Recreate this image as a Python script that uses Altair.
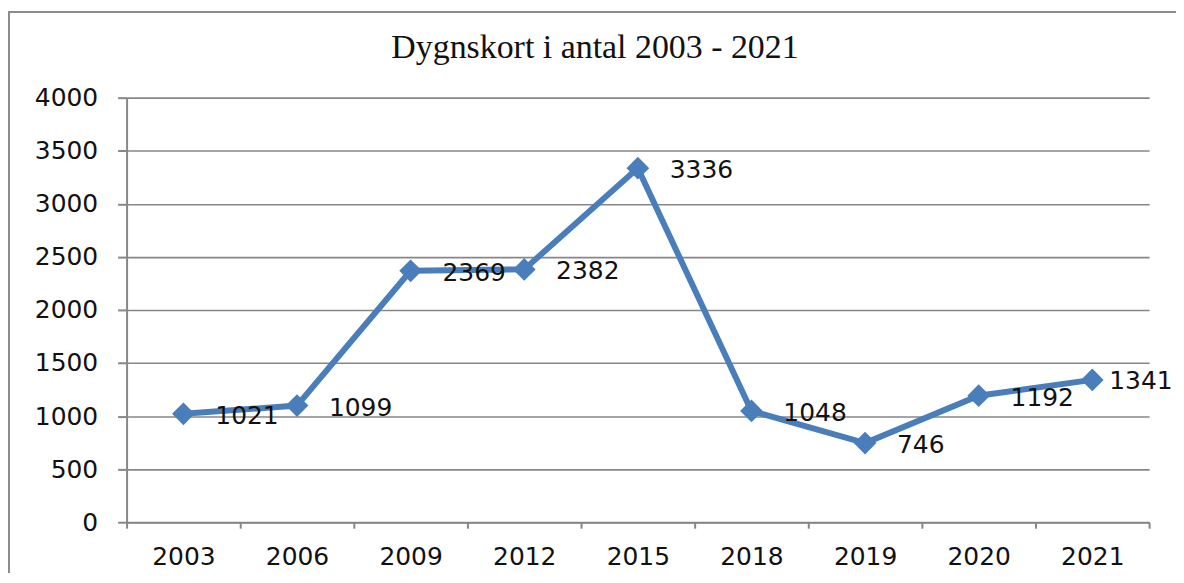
import altair as alt
import pandas as pd

years = ["2003", "2006", "2009", "2012", "2015", "2018", "2019", "2020", "2021"]
values = [1021, 1099, 2369, 2382, 3336, 1048, 746, 1192, 1341]
y_ticks = [0, 500, 1000, 1500, 2000, 2500, 3000, 3500, 4000]

df = pd.DataFrame({"year": years, "value": values})
last_year = years[-1]

BLUE = "#4A7EBB"
GRAY = "#878787"

x_enc = alt.X("year:N", sort=years,
              scale=alt.Scale(paddingInner=0, paddingOuter=0),
              axis=alt.Axis(title=None, labelAngle=0, grid=False, ticks=True,
                            tickBand="extent", tickSize=6, tickColor=GRAY, tickWidth=2,
                            domain=True, domainColor=GRAY, domainWidth=2,
                            labelFont="DejaVu Sans", labelFontSize=25,
                            labelColor="#111111", labelPadding=16))
y_enc = alt.Y("value:Q",
              scale=alt.Scale(domain=[0, 4000], nice=False),
              axis=alt.Axis(title=None, values=y_ticks, format="d", grid=True,
                            gridColor=GRAY, gridWidth=1.6, tickSize=9, tickColor=GRAY,
                            tickWidth=2, domain=True, domainColor=GRAY, domainWidth=2,
                            labelFont="DejaVu Sans", labelFontSize=25,
                            labelColor="#111111", labelPadding=20))

base = alt.Chart(df).encode(x=x_enc, y=y_enc)

line = base.mark_line(color=BLUE, strokeWidth=6)
pts = base.mark_point(shape="diamond", filled=True, size=520, color=BLUE, opacity=1)
labels = base.mark_text(align="left", baseline="middle", dx=32, dy=2,
                        font="DejaVu Sans", fontSize=25, color="#111111").encode(
    text="value:Q").transform_filter(alt.datum.year != last_year)
label_last = base.mark_text(align="left", baseline="middle", dx=17, dy=1,
                            font="DejaVu Sans", fontSize=25, color="#111111").encode(
    text="value:Q").transform_filter(alt.datum.year == last_year)

border = alt.Chart(df).mark_rect(fill=None, stroke="#8C8C8C", strokeWidth=2).encode(
    x=alt.value(-118), x2=alt.value(1200), y=alt.value(-86), y2=alt.value(700))

chart = alt.layer(border, line, pts, labels, label_last).properties(
    width=1026, height=426,
    title=alt.TitleParams("Dygnskort i antal 2003 - 2021", font="Liberation Serif",
                          fontSize=34, fontWeight="normal", color="#111111",
                          anchor="middle", dx=-43, offset=-54),
    autosize=alt.AutoSizeParams(type="none"),
    padding={"left": 119, "top": 89, "right": 27, "bottom": 50},
).configure_view(stroke=None)

chart.save("out.html", embed_options={"renderer": "svg", "actions": False})
